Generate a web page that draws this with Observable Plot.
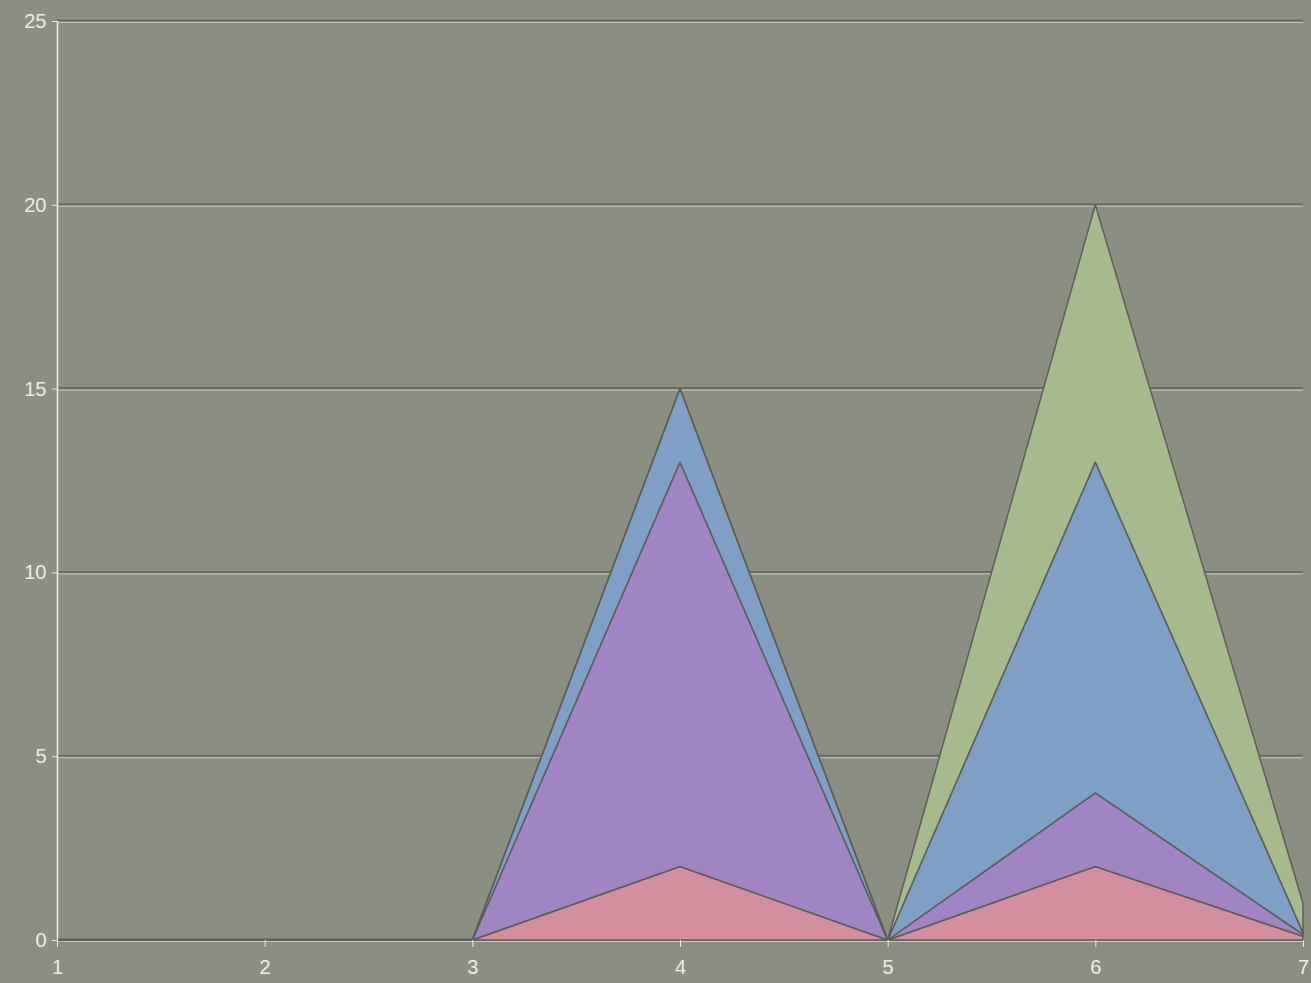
<!DOCTYPE html>
<html>
<head>
<meta charset="utf-8">
<script src="https://cdn.jsdelivr.net/npm/d3@7"></script>
<script src="https://cdn.jsdelivr.net/npm/@observablehq/plot@0.6"></script>
<style>
  html, body { margin: 0; padding: 0; background: #8b8f82; }
  #chart svg { display: block; }
</style>
</head>
<body>
<div id="chart"></div>
<script>
const xValues = [1, 2, 3, 4, 5, 6, 7];
const seriesNames = ["A", "B", "C", "D"];
const seriesColors = ["#d48f9f", "#a185c4", "#7f9fc7", "#a6ba8e"];
const seriesA = [0, 0, 0, 2, 0, 2, 0.1];
const seriesB = [0, 0, 0, 11, 0, 2, 0.05];
const seriesC = [0, 0, 0, 2, 0, 9, 0.05];
const seriesD = [0, 0, 0, 0, 0, 7, 0.8];
const yTicks = [0, 5, 10, 15, 20, 25];
const xTicks = [1, 2, 3, 4, 5, 6, 7];

const allSeries = [seriesA, seriesB, seriesC, seriesD];
const rows = [];
allSeries.forEach((vals, i) => {
  vals.forEach((v, j) => rows.push({x: xValues[j], value: v, series: seriesNames[i]}));
});

const chart = Plot.plot({
  width: 1311,
  height: 983,
  marginLeft: 57,
  marginRight: 8,
  marginTop: 21,
  marginBottom: 43,
  style: {background: "#8b8f82", fontFamily: "Liberation Sans, Arial, sans-serif"},
  x: {domain: [1, 7]},
  y: {domain: [0, 25]},
  color: {domain: seriesNames, range: seriesColors},
  marks: [
    Plot.ruleY(yTicks, {stroke: "#676b61", strokeWidth: 2, dy: -1}),
    Plot.ruleY(yTicks, {stroke: "#d4d6cc", strokeWidth: 1, dy: 1, strokeOpacity: 0.8}),
    Plot.areaY(rows, {
      x: "x", y: "value", z: "series", fill: "series",
      order: seriesNames,
      stroke: "#5b5f56", strokeWidth: 1.5, fillOpacity: 1
    }),
    Plot.ruleX([1], {stroke: "#eceee6", strokeWidth: 1.5}),
    Plot.axisY({ticks: yTicks, tickFormat: d => String(d), label: null, tickSize: 5, tickPadding: 6, fontSize: 20, color: "#eceee6", stroke: "#eceee6"}),
    Plot.axisX({ticks: xTicks, tickFormat: d => String(d), label: null, tickSize: 7, tickPadding: 12, fontSize: 20, color: "#eceee6", stroke: "#eceee6"})
  ]
});

document.getElementById("chart").appendChild(chart);
</script>
</body>
</html>
